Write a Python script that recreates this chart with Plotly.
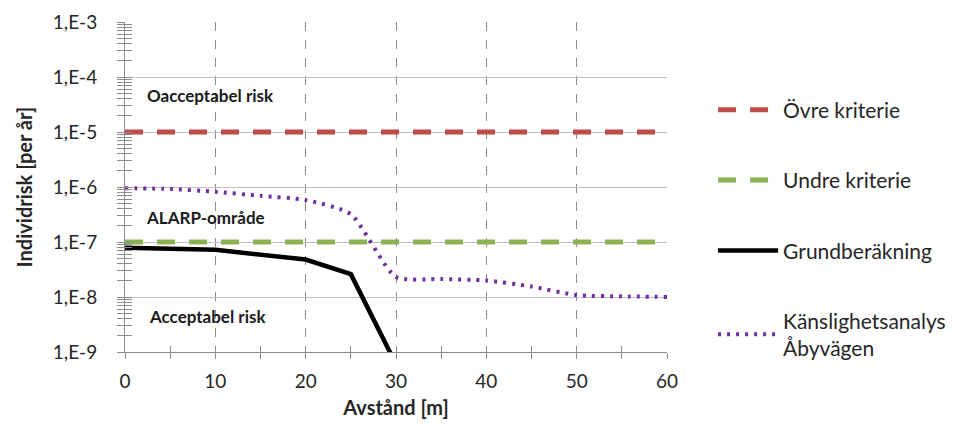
import plotly.graph_objects as go

# ---- data ----
x_crit = [0, 60]
y_upper = [1e-5, 1e-5]
y_lower = [1e-7, 1e-7]

x_base = [0, 10, 20, 25, 30]
y_base = [7.9e-8, 7.2e-8, 4.8e-8, 2.6e-8, 6e-10]

x_sens = [0, 5, 10, 15, 20, 25, 30, 35, 40, 45, 50, 55, 60]
y_sens = [9.5e-7, 9.2e-7, 8.2e-7, 6.9e-7, 5.8e-7, 3.2e-7, 2.3e-8, 2.12e-8, 2.0e-8, 1.55e-8, 1.08e-8, 1.03e-8, 1.0e-8]

y_tickvals = [1e-9, 1e-8, 1e-7, 1e-6, 1e-5, 1e-4, 1e-3]
y_ticktext = ["1,E-9", "1,E-8", "1,E-7", "1,E-6", "1,E-5", "1,E-4", "1,E-3"]
x_tickvals = [0, 10, 20, 30, 40, 50, 60]

labels = ["Övre kriterie", "Undre kriterie", "Grundberäkning", "Känslighetsanalys<br>Åbyvägen"]
# zone labels: (text, x, log10(y))
zones = [("Oacceptabel risk", 9.5, -4.345),
         ("ALARP-område", 8.9, -6.56),
         ("Acceptabel risk", 9.1, -8.36)]

FONT = "Lato, 'Open Sans', sans-serif"
TXT = "#262626"
AX = "#8C8C8C"

fig = go.Figure()
fig.add_trace(go.Scatter(x=x_crit, y=y_upper, mode="lines", name=labels[0], legendgroup="a",
                         line=dict(color="#BE4B48", width=5, dash="18px,14px")))
fig.add_trace(go.Scatter(x=x_crit, y=y_lower, mode="lines", name=labels[1], legendgroup="b",
                         line=dict(color="#8DB255", width=5, dash="18px,14px")))
fig.add_trace(go.Scatter(x=x_base, y=y_base, mode="lines", name=labels[2], legendgroup="c",
                         line=dict(color="#000000", width=4.5)))
fig.add_trace(go.Scatter(x=x_sens, y=y_sens, mode="lines", name=labels[3], legendgroup="d",
                         line=dict(color="#7030A0", width=4, dash="3px,6px", shape="spline", smoothing=0.6)))

# overlay axes for the inside half of the cross ticks
fig.add_trace(go.Scatter(x=[0], y=[1e-6], yaxis="y2", xaxis="x2", mode="markers",
                         marker=dict(opacity=0), showlegend=False, hoverinfo="skip"))

for text, xx, yy in zones:
    fig.add_annotation(x=xx, y=yy, yref="y", xref="x", text="<b>" + text + "</b>", showarrow=False,
                       font=dict(family=FONT, size=17, color="#1a1a1a"))

# page has an 8px body margin: figure is 945x422 and placed at (8,8)
fig.update_layout(
    width=945, height=422,
    margin=dict(l=117, r=286, t=14, b=78, autoexpand=False),
    paper_bgcolor="white", plot_bgcolor="white",
    font=dict(family=FONT, size=19, color=TXT),
    xaxis=dict(range=[0, 60], tickvals=x_tickvals, showgrid=True, gridcolor=AX,
               griddash="dash", gridwidth=1, showline=True, linecolor=AX, linewidth=1,
               ticks="outside", ticklen=6, tickcolor=AX, zeroline=False, automargin=False,
               minor=dict(dtick=5, ticks="outside", ticklen=6, tickcolor=AX, showgrid=False),
               title=dict(text="<b>Avstånd [m]</b>", standoff=10, font=dict(size=20)),
               tickfont=dict(size=19), ticklabelstandoff=6),
    yaxis=dict(type="log", range=[-9, -3], tickvals=y_tickvals, ticktext=y_ticktext,
               showgrid=True, gridcolor="#BFBFBF", gridwidth=1, showline=True, linecolor=AX,
               ticks="outside", ticklen=7, tickcolor=AX, zeroline=False, automargin=False,
               minor=dict(dtick="D1", ticks="outside", ticklen=7, tickcolor=AX, showgrid=False),
               title=dict(text="<b>Individrisk [per år]</b>", standoff=14, font=dict(size=20)),
               tickfont=dict(size=19), ticklabelstandoff=16),
    xaxis2=dict(overlaying="x", range=[0, 60], showticklabels=False, showgrid=False, zeroline=False,
                ticks="inside", ticklen=6, tickcolor=AX, tickvals=x_tickvals, automargin=False,
                minor=dict(dtick=5, ticks="inside", ticklen=6, tickcolor=AX), anchor="y2"),
    yaxis2=dict(overlaying="y", type="log", range=[-9, -3], showticklabels=False, showgrid=False,
                zeroline=False, ticks="inside", ticklen=7, tickcolor=AX, tickvals=y_tickvals,
                automargin=False,
                minor=dict(dtick="D1", ticks="inside", ticklen=7, tickcolor=AX), anchor="x2"),
    showlegend=True,
    legend=dict(x=1.085, y=0.795, xanchor="left", yanchor="top", tracegroupgap=40,
                traceorder="grouped", font=dict(size=21, color=TXT), itemwidth=60,
                bgcolor="rgba(0,0,0,0)"),
)

fig.write_html("out.html")
